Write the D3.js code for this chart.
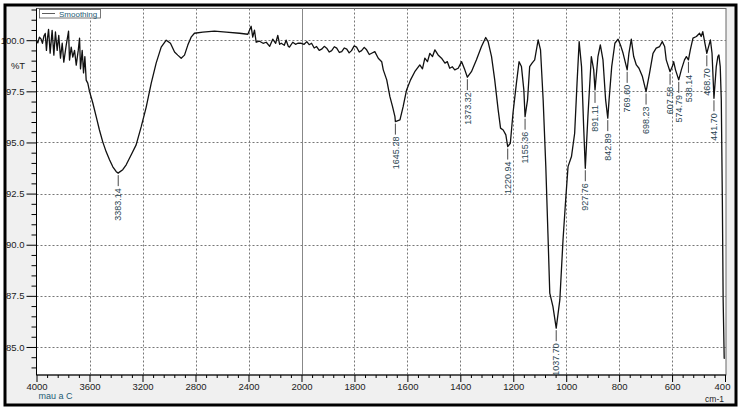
<!DOCTYPE html>
<html><head><meta charset="utf-8">
<script src="https://cdn.jsdelivr.net/npm/d3@7"></script>
<style>
body{margin:0;background:#fff}
svg{display:block}
text{font-family:'Liberation Sans Narrow','Arial Narrow','Liberation Sans',Arial,sans-serif}
</style>
</head><body>
<svg id="c" width="742" height="410"></svg>
<script>
// ---- data ----
const wavenumber = [4000,3990,3978,3965,3955,3944,3934,3925,3917,3909,3897,3882,3869,3857,3844,3832,3819,3806,3794,3776,3758,3751,3738,3726,3713,3700,3685,3675,3668,3655,3645,3635,3625,3613,3600,
3575,3549,3525,3500,3474,3449,3424,3398,3383.14,3374,3349,3323,3285,3248,3210,3172,3134,3097,3059,3021,2989,2958,2934,2908,2883,2858,2833,2808,2745,2657,2568,2468,2405,2380,2368,2355,2342,2317,2290,2266,2240,2217,2195,2179,2165,2153,2130,2116,2100,2091,2066,2045,2028,2002,
1990,1980,1971,1962,1952,1943,1933,1924,1914,1905,1895,1886,1876,1867,1857,1848,1838,1829,1820,1811,1801,1792,1782,1773,1763,1754,1744,1735,1723,1710,1697,1691,1678,1666,1656,1647,1645.28,1628,1616,1603,1588,1572,1553,1543,1534,1524,1515,1505,1496,1484,1471,1458,1449,1440,1430,1421,1408,1395,1383,1373.32,1358,1339,1320,1304,1295,1282,1270,1257,1248,1238,1228,1220.94,1211,1201,1188,1178,1169,1160,1155.36,1146,1138,1129,1119,1106,1097,1087,1077,1069,1062,1050,1037.70,1024,1012,1002,993,980,968,959,951,942,934,927.76,918,905,896,891.11,880,871,861,851,842.89,838,828,816,804,795,785,769.60,763,754,745,735,725,712,698.23,685,672,660,647,637,628,622,607.58,599,594,587,574.79,565,553,546,538.14,531,521,508,496,490,484,477,468.70,462,455,449,441.70,433,427,423,418,414,410,407,403,401];
const transmittance = [99.97,99.87,100.15,100.05,99.85,100.2,100.33,99.50,100.1,100.53,99.37,100.48,99.27,100.40,99.50,100.24,99.12,99.85,98.93,99.75,100.44,99.03,99.66,99.17,99.50,98.78,99.50,100.10,98.60,99.50,98.40,99.20,98.05,97.90,97.50,
96.93,96.25,95.61,95.03,94.54,94.15,93.81,93.57,93.50,93.55,93.67,93.91,94.40,94.88,95.76,96.73,97.90,98.88,99.66,100.0,99.85,99.42,99.27,99.12,99.27,99.76,100.15,100.34,100.39,100.44,100.39,100.34,100.29,100.68,100.15,100.49,99.90,99.95,99.85,99.90,99.70,100.05,99.85,100.24,99.80,99.85,99.75,100.0,99.70,99.66,99.90,99.80,99.85,99.85,
99.80,99.93,99.78,99.85,99.62,99.69,99.50,99.56,99.70,99.61,99.42,99.49,99.68,99.61,99.40,99.44,99.62,99.56,99.38,99.49,99.72,99.66,99.42,99.49,99.65,99.53,99.30,99.36,99.44,99.12,98.95,98.55,98.06,97.24,96.75,96.26,96.02,96.10,96.75,97.57,98.06,98.46,98.79,98.60,99.12,98.95,99.36,99.20,99.53,99.28,99.12,98.88,98.95,98.63,98.70,98.55,98.63,98.95,98.55,98.19,98.46,99.04,99.69,100.13,99.93,99.20,98.06,96.59,95.70,95.61,95.37,94.80,94.96,96.43,97.90,98.95,98.71,97.57,96.26,97.08,98.71,98.88,99.04,100.01,99.53,97.08,93.82,90.56,87.63,86.97,85.92,87.30,90.23,92.19,93.82,94.31,95.45,97.90,99.93,98.71,95.77,93.74,96.26,99.20,98.55,97.57,99.20,99.77,99.04,97.08,96.19,97.08,98.71,99.85,100.05,99.77,99.36,98.55,99.36,100.05,99.20,98.79,98.63,98.22,97.49,98.39,99.36,99.61,99.69,99.93,99.69,99.04,98.46,98.71,98.95,98.55,98.06,98.55,99.04,99.20,99.04,99.53,100.10,100.18,100.34,100.18,100.42,99.93,99.36,99.69,100.01,99.36,97.16,98.71,99.20,99.28,98.71,97.08,92.19,87.30,84.45,84.45];
const peakWavenumbers = [3383.14,1645.28,1373.32,1220.94,1155.36,1037.70,927.76,891.11,842.89,769.60,698.23,607.58,574.79,538.14,468.70,441.70];
const xTickValues = [4000,3600,3200,2800,2400,2000,1800,1600,1400,1200,1000,800,600,400];
const yTickValues = [100,97.5,95,92.5,90,87.5,85];
const legendLabel = "Smoothing";
const yAxisTitle = "%T";
const xAxisTitle = "cm-1";
const footNote = "mau a C";

// ---- layout ----
const svg = d3.select("#c");
const L = 36.5, R = 726, T = 8.5, B = 375;
const x = d3.scaleLinear().domain([4000,2000,400]).range([L,301.5,725]);
const y = d3.scaleLinear().domain([101.55,83.63]).range([T,B]);

// background
svg.append("rect").attr("x",0).attr("y",0).attr("width",742).attr("height",410).attr("fill","#fff");
svg.append("rect").attr("x",5).attr("y",5).attr("width",731).attr("height",400).attr("fill","#f0f0f0");
svg.append("rect").attr("x",L).attr("y",T).attr("width",R-L).attr("height",B-T).attr("fill","#fff").attr("stroke","#666").attr("stroke-width",1);

// grid
const g = svg.append("g");
g.selectAll("line.h").data(yTickValues).join("line")
  .attr("x1",L).attr("x2",R).attr("y1",d=>Math.round(y(d))+0.5).attr("y2",d=>Math.round(y(d))+0.5)
  .attr("stroke","#777").attr("stroke-dasharray","2,2").attr("stroke-width",1);
g.selectAll("line.v").data(xTickValues.filter(d=>d!==4000&&d!==400)).join("line")
  .attr("x1",d=>Math.round(x(d))+0.5).attr("x2",d=>Math.round(x(d))+0.5).attr("y1",T).attr("y2",B)
  .attr("stroke",d=>d===2000?"#888":"#777")
  .attr("stroke-dasharray",d=>d===2000?null:"2,2").attr("stroke-width",1);

// axes
function minorRange(a,b,step){const r=[];for(let v=a;v>=b-1e-9;v-=step)r.push(+v.toFixed(2));return r;}
const yMinor = minorRange(101.5,84,0.5).filter(v=>!yTickValues.includes(v));
const xMinor = minorRange(4000,2000,80).concat(minorRange(2000,400,40)).filter(v=>!xTickValues.includes(v));

const axStyle = sel=>{sel.select(".domain").attr("stroke","#000");sel.selectAll("line").attr("stroke","#000");
  sel.selectAll("text").attr("fill","#222").style("font-size","9.5px");};

svg.append("g").attr("transform",`translate(${L},0)`)
  .call(d3.axisLeft(y).tickValues(yMinor).tickSize(5).tickFormat("")).call(axStyle).select(".domain").remove();
svg.append("g").attr("transform",`translate(${L},0)`)
  .call(d3.axisLeft(y).tickValues(yTickValues).tickSize(10).tickPadding(2).tickFormat(d3.format(".1f")))
  .call(axStyle).select(".domain").attr("d",`M0,${T}V${B}`);

svg.append("g").attr("transform",`translate(0,${B})`)
  .call(d3.axisBottom(x).tickValues(xMinor).tickSize(3).tickFormat("")).call(axStyle).select(".domain").remove();
const xa = svg.append("g").attr("transform",`translate(0,${B})`)
  .call(d3.axisBottom(x).tickValues(xTickValues).tickSize(7).tickPadding(1).tickFormat(d3.format("d")))
  .call(axStyle);
xa.select(".domain").attr("d",`M${L},0H${R}`);
xa.selectAll(".tick").filter(d=>d===400).select("text").attr("dx","-3");

// titles
svg.append("text").attr("x",18).attr("y",69).attr("text-anchor","middle").attr("fill","#222").style("font-size","9.5px").text(yAxisTitle);
svg.append("text").attr("x",L+2).attr("y",399).attr("fill","#1d5a73").style("font-size","9px").text(footNote);
svg.append("text").attr("x",724).attr("y",401.5).attr("text-anchor","end").attr("fill","#222").style("font-size","8.5px").text(xAxisTitle);

// spectrum
const data = wavenumber.map((w,i)=>({w,t:transmittance[i]}));
svg.append("path").datum(data)
  .attr("d",d3.line().x(d=>x(d.w)).y(d=>y(d.t)))
  .attr("fill","none").attr("stroke","#111").attr("stroke-width",1.3).attr("stroke-linejoin","round");

// peak labels
const pk = svg.append("g");
peakWavenumbers.forEach(w=>{
  const p = data.find(d=>d.w===w);
  const px = x(w), py = y(p.t);
  pk.append("line").attr("x1",px).attr("x2",px).attr("y1",py+2).attr("y2",py+13).attr("stroke","#333").attr("stroke-width",0.9);
  pk.append("text").attr("transform",`translate(${px},${py+15}) rotate(-90)`)
    .attr("text-anchor","end").attr("dy","0.35em").attr("fill","#2b4653").style("font-size","9px").text(w.toFixed(2));
});

// legend
const lg = svg.append("g");
lg.append("rect").attr("x",39.5).attr("y",9.5).attr("width",61).attr("height",8.5).attr("fill","#fff").attr("stroke","#555").attr("stroke-width",0.8);
lg.append("line").attr("x1",42).attr("x2",55).attr("y1",13.5).attr("y2",13.5).attr("stroke","#333").attr("stroke-width",0.8);
lg.append("text").attr("x",59).attr("y",16.8).attr("fill","#1d5a73").style("font-size","8px").text(legendLabel);

// outer frame
svg.append("rect").attr("x",5).attr("y",5).attr("width",731).attr("height",400).attr("fill","none").attr("stroke","#000").attr("stroke-width",3);
</script>
</body></html>
